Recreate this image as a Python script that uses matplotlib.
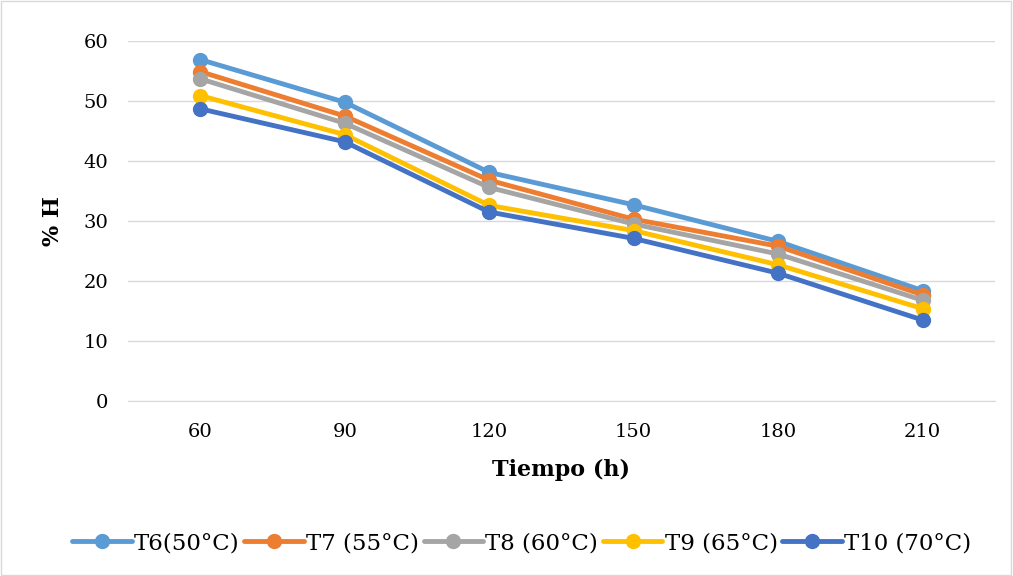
import matplotlib
matplotlib.use("Agg")
import matplotlib.pyplot as plt
from matplotlib.patches import Rectangle

categories = ["60", "90", "120", "150", "180", "210"]
series_names = ["T6(50°C)", "T7 (55°C)", "T8 (60°C)", "T9 (65°C)", "T10 (70°C)"]
t6 = [56.9, 49.8, 38.1, 32.7, 26.6, 18.4]
t7 = [54.9, 47.5, 36.8, 30.3, 25.8, 17.7]
t8 = [53.7, 46.3, 35.6, 29.5, 24.5, 16.8]
t9 = [50.9, 44.4, 32.6, 28.4, 22.7, 15.4]
t10 = [48.7, 43.2, 31.5, 27.1, 21.3, 13.5]
colors = ["#5B9BD5", "#ED7D31", "#A5A5A5", "#FFC000", "#4472C4"]

plt.rcParams['font.family'] = ['DejaVu Serif']

fig = plt.figure(figsize=(10.13, 5.76), dpi=100)
fig.patches.append(Rectangle((0.001, 0.001), 0.997, 0.997, transform=fig.transFigure,
                             fill=False, edgecolor="#d9d9d9", linewidth=1))
ax = fig.add_axes([0.1264, 0.3038, 0.8556, 0.625])
x = list(range(len(categories)))
for vals, name, c in zip([t6, t7, t8, t9, t10], series_names, colors):
    ax.plot(x, vals, color=c, linewidth=3.5, marker="o", markersize=10, label=name,
            solid_capstyle="round")

ax.set_xlim(-0.5, len(categories) - 0.5)
ax.set_ylim(0, 60)
ax.set_yticks(range(0, 61, 10))
ax.set_xticks(x)
ax.set_xticklabels(categories)
ax.grid(axis="y", color="#d9d9d9", linewidth=1)
ax.set_axisbelow(True)
for s in ["top", "right", "left"]:
    ax.spines[s].set_visible(False)
ax.spines["bottom"].set_color("#d9d9d9")
ax.tick_params(axis="x", length=0, labelsize=14, pad=16)
ax.tick_params(axis="y", length=0, labelsize=14, pad=14)
ax.set_xlabel("Tiempo (h)", fontsize=16, fontweight="bold", labelpad=13)
ax.set_ylabel("% H", fontsize=16, fontweight="bold", labelpad=14)

fig.legend(loc="center", bbox_to_anchor=(0.515, 0.057), ncol=5, frameon=False,
           fontsize=16.5, handlelength=2.6, handletextpad=0.1, columnspacing=0.2)

fig.savefig("out.png", dpi=100)
